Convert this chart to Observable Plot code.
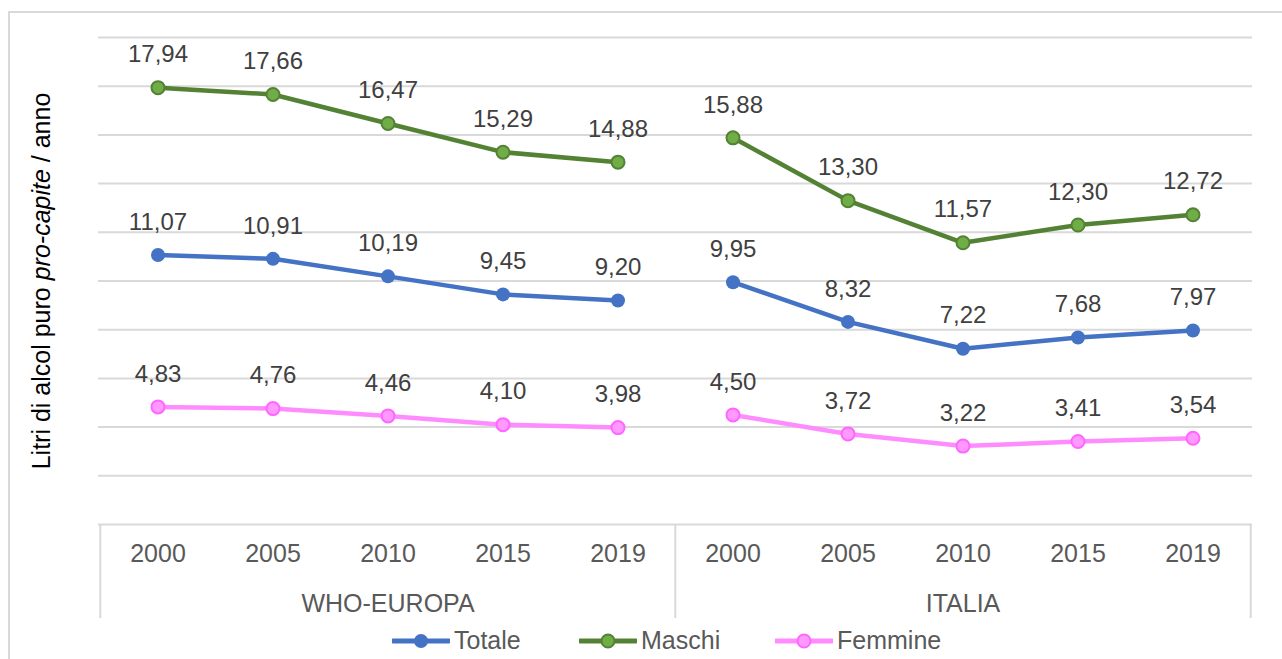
<!DOCTYPE html>
<html>
<head>
<meta charset="utf-8">
<script src="https://cdn.jsdelivr.net/npm/d3@7"></script>
<script src="https://cdn.jsdelivr.net/npm/@observablehq/plot@0.6"></script>
<style>
  html, body { margin: 0; padding: 0; background: #fff; overflow: hidden; width: 1282px; height: 659px; }
  body { position: relative; font-family: "Liberation Sans", Arial, sans-serif; }
  #frame { position: absolute; left: 8px; top: 11px; width: 1300px; height: 700px; border: 2px solid #D9D9D9; box-sizing: border-box; }
  #chart { position: absolute; left: 0; top: 0; }
  #legend { position: absolute; left: 0; top: 622px; width: 1282px; height: 37px; }
  .item { position: absolute; top: 0; height: 37px; display: flex; align-items: center; font-size: 25px; color: #595959; }
  .item svg { margin-right: 4px; }
  #ytitle { position: absolute; left: 41px; top: 281px; transform: translate(-50%, -50%) rotate(-90deg); white-space: nowrap; font-size: 25px; color: #000; }
</style>
</head>
<body>
<div id="frame"></div>
<div id="chart"></div>
<div id="ytitle">Litri di alcol puro <i>pro-capite</i> / anno</div>
<div id="legend"></div>
<script>
// ---- data ----
const years = ["2000", "2005", "2010", "2015", "2019"];
const regions = ["WHO-EUROPA", "ITALIA"];
const seriesNames = ["Totale", "Maschi", "Femmine"];
const totaleWHO = [11.07, 10.91, 10.19, 9.45, 9.20];
const totaleITA = [9.95, 8.32, 7.22, 7.68, 7.97];
const maschiWHO = [17.94, 17.66, 16.47, 15.29, 14.88];
const maschiITA = [15.88, 13.30, 11.57, 12.30, 12.72];
const femmineWHO = [4.83, 4.76, 4.46, 4.10, 3.98];
const femmineITA = [4.50, 3.72, 3.22, 3.41, 3.54];
const yTicks = [0, 2, 4, 6, 8, 10, 12, 14, 16, 18, 20];

// ---- styles ----
const lineColor = {Totale: "#4472C4", Maschi: "#548235", Femmine: "#FF8CFF"};
const dotFill = {Totale: "#4472C4", Maschi: "#70AD47", Femmine: "#FF99FF"};
const dotStroke = {Totale: "#4472C4", Maschi: "#548235", Femmine: "#FF66FF"};

const seriesData = {
  Totale: {"WHO-EUROPA": totaleWHO, "ITALIA": totaleITA},
  Maschi: {"WHO-EUROPA": maschiWHO, "ITALIA": maschiITA},
  Femmine: {"WHO-EUROPA": femmineWHO, "ITALIA": femmineITA}
};

const keys = [];
regions.forEach(r => years.forEach(y => keys.push(r + "|" + y)));

const rows = [];
seriesNames.forEach(s => regions.forEach(r => years.forEach((y, i) => {
  rows.push({series: s, region: r, year: y, key: r + "|" + y, value: seriesData[s][r][i]});
})));

const W = 1282, H = 622;
const mL = 98, mR = 30, mT = 37, mB = H - 524;
const bw = (W - mL - mR) / keys.length;
const pxPerUnit = (524 - mT) / 20;
const sepBottom = -(618 - 524) / pxPerUnit;

const fmt = v => v.toFixed(2).replace(".", ",");
const font = "'Liberation Sans', Arial, sans-serif";

const dotsFor = s => Plot.dot(rows.filter(d => d.series === s), {
  x: "key", y: "value", r: s === "Totale" ? 7 : 6.5,
  fill: dotFill[s], stroke: dotStroke[s], strokeWidth: s === "Totale" ? 0 : 2
});

const chart = Plot.plot({
  width: W, height: H,
  marginLeft: mL, marginRight: mR, marginTop: mT, marginBottom: mB,
  style: {fontFamily: font, overflow: "visible", background: "transparent"},
  x: {type: "band", domain: keys, padding: 0, axis: null},
  y: {domain: [0, 20], axis: null},
  marks: [
    Plot.ruleY(yTicks, {stroke: "#D9D9D9", strokeWidth: 2}),
    Plot.ruleX([keys[0], keys[5]], {y1: 0, y2: sepBottom, dx: -bw / 2, stroke: "#D9D9D9", strokeWidth: 2, clip: false}),
    Plot.ruleX([keys[9]], {y1: 0, y2: sepBottom, dx: bw / 2, stroke: "#D9D9D9", strokeWidth: 2, clip: false}),
    ...seriesNames.map(s => Plot.line(rows.filter(d => d.series === s), {
      x: "key", y: "value", z: "region", stroke: lineColor[s], strokeWidth: 4.5, curve: "linear"
    })),
    ...seriesNames.map(dotsFor),
    Plot.text(rows, {x: "key", y: "value", text: d => fmt(d.value), dy: -33, fontSize: 24, fill: "#404040", lineAnchor: "middle"}),
    Plot.text(keys, {x: d => d, y: () => 0, text: d => d.split("|")[1], dy: 29, fontSize: 25, fill: "#595959", lineAnchor: "middle"}),
    Plot.text(regions, {x: d => d + "|2010", y: () => 0, text: d => d, dy: 79, fontSize: 25, fill: "#595959", lineAnchor: "middle"})
  ]
});
document.getElementById("chart").appendChild(chart);

// ---- legend ----
const legend = document.getElementById("legend");
const legendLeft = [392, 579, 775];
seriesNames.forEach((s, i) => {
  const item = document.createElement("div");
  item.className = "item";
  item.style.left = legendLeft[i] + "px";
  const sw = s === "Totale" ? 0 : 2;
  item.innerHTML = `<svg width="58" height="20"><line x1="1" y1="10" x2="57" y2="10" stroke="${lineColor[s]}" stroke-width="5" stroke-linecap="round"/><circle cx="29" cy="10" r="${s === "Totale" ? 7 : 6.5}" fill="${dotFill[s]}" stroke="${dotStroke[s]}" stroke-width="${sw}"/></svg><span>${s}</span>`;
  legend.appendChild(item);
});
</script>
</body>
</html>
